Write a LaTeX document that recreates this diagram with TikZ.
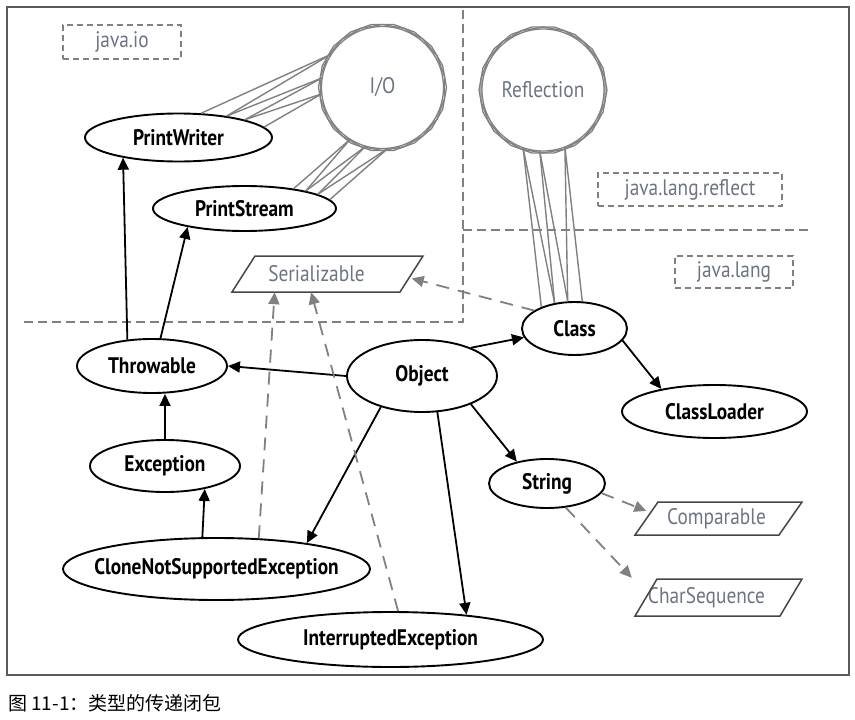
\documentclass[tikz,border=0pt]{standalone}
\usepackage{fontspec}
\setmainfont{PT Sans}[FakeStretch=0.86]
\newfontfamily\cjk{Noto Sans CJK SC}
\usetikzlibrary{shapes.geometric,arrows.meta,calc}
\definecolor{lblgray}{RGB}{108,116,132}
\definecolor{lngray}{RGB}{128,128,128}
\definecolor{framegray}{RGB}{90,90,90}
\definecolor{ifgray}{RGB}{70,70,70}
\newcommand\zbox[1]{\makebox[0pt]{#1}}
\begin{document}
\begin{tikzpicture}[x=1pt,y=-1pt,
  nd/.style={ellipse, draw=black, line width=1.9pt, fill=white, inner sep=0pt,
    font=\fontsize{22.5}{25}\selectfont\bfseries, text=black},
  clus/.style={circle, inner sep=0pt, minimum size=122pt,
    font=\fontsize{22.5}{25}\selectfont, text=lblgray},
  clusline/.style={draw=lngray, line width=1.3pt},
  poly/.style={regular polygon, regular polygon sides=18, inner sep=0pt, draw=lngray, line width=1.3pt},
  arr/.style={-{Triangle[length=12pt,width=11pt]}, line width=1.8pt, black},
  darr/.style={-{Triangle[length=12pt,width=11pt]}, line width=1.8pt, lngray, dash pattern=on 13pt off 9pt},
  glink/.style={lngray, line width=1.4pt},
  sep/.style={lngray, line width=1.8pt, dash pattern=on 9pt off 5pt},
  pkg/.style={draw=lngray, line width=1.8pt, dash pattern=on 6pt off 4pt, inner sep=0pt,
    font=\fontsize{22.5}{25}\selectfont, text=lblgray},
  ifn/.style={inner sep=0pt, font=\fontsize{22.5}{25}\selectfont, text=lblgray},
  ifb/.style={draw=ifgray, line width=1.5pt}
]
\useasboundingbox (0,0) rectangle (855,720);
% frame
\draw[framegray, line width=1.5pt] (7,7) rectangle (849,675);
% separators
\draw[sep] (463,10) -- (463,322) -- (22,322);
\draw[sep] (463,230) -- (808,230);
% package labels
\node[pkg, minimum width=118pt, minimum height=34pt] (pio) at (122,42) {java.io};
\node[pkg, minimum width=184pt, minimum height=33pt] (prefl) at (690,189.5) {java.lang.reflect};
\node[pkg, minimum width=118pt, minimum height=32pt] (plang) at (734,272) {java.lang};
% clusters
\node[clus] (io) at (382.5,87.5) {\zbox{I/O}};
\draw[clusline] (io.center) circle[radius=61pt];
\node[poly, minimum size=128pt] (iop1) at (io.center) {};
\node[poly, minimum size=126pt, rotate=10] (iop2) at (io.center) {};
\node[clus] (refl) at (543,90) {\zbox{Reflection}};
\draw[clusline] (refl.center) circle[radius=61pt];
\node[poly, minimum size=128pt] (rfp1) at (refl.center) {};
\node[poly, minimum size=126pt, rotate=10] (rfp2) at (refl.center) {};
% class nodes
\node[nd, minimum width=187pt, minimum height=48pt] (pw) at (178.5,137.5) {\zbox{PrintWriter}};
\node[nd, minimum width=183pt, minimum height=45pt] (ps) at (244.5,208.5) {\zbox{PrintStream}};
\node[nd, minimum width=150pt, minimum height=54pt] (thr) at (152,366) {\zbox{Throwable}};
\node[nd, minimum width=150pt, minimum height=72pt] (obj) at (422,376) {\zbox{Object}};
\node[nd, minimum width=105pt, minimum height=53pt] (cls) at (574.5,328.5) {\zbox{Class}};
\node[nd, minimum width=185pt, minimum height=53pt] (cl) at (714.5,411.5) {\zbox{ClassLoader}};
\node[nd, minimum width=150pt, minimum height=52pt] (exc) at (165,466) {\zbox{Exception}};
\node[nd, minimum width=116pt, minimum height=49pt] (str) at (547,483.5) {\zbox{String}};
\node[nd, minimum width=307pt, minimum height=62pt] (clone) at (216.5,569) {\zbox{CloneNotSupportedException}};
\node[nd, minimum width=305pt, minimum height=55pt] (intr) at (390.5,639.5) {\zbox{InterruptedException}};
% interfaces
\node[ifn, minimum width=168pt, minimum height=36pt] (ser) at (327.5,274) {\zbox{\hspace*{-22pt}Serializable}};
\draw[ifb] ($(ser.center)+(-95.5,18)$) -- ++(168,0) -- ++(23,-36) -- ++(-168,0) -- cycle;
\node[ifn, minimum width=144pt, minimum height=33pt] (cmp) at (718.5,518.5) {\zbox{\hspace*{-4pt}Comparable}};
\node[ifn, minimum width=145pt, minimum height=37pt] (chs) at (718.5,597.5) {\zbox{\hspace*{-24pt}CharSequence}};
\draw[ifb] ($(cmp.center)+(-83.5,16.5)$) -- ++(144,0) -- ++(23,-33) -- ++(-144,0) -- cycle;
\draw[ifb] ($(chs.center)+(-83.5,18.5)$) -- ++(145,0) -- ++(22,-37) -- ++(-145,0) -- cycle;
% cluster links
\foreach \a/\b in {147/47,147/24,171/24,171/15,186/15,186/7}
  \draw[glink] (io.\a) -- (pw.\b);
\foreach \a/\b in {238/22,238/16,254/16,254/11,275/11,275/6}
  \draw[glink] (io.\a) -- (ps.\b);
\foreach \a/\b in {251/147,251/128,267/128,267/104,291/104,291/74}
  \draw[glink] (refl.\a) -- (cls.\b);
% solid arrows
\draw[arr] (thr.133) -- (pw.200);
\draw[arr] (thr.73) -- (ps.198);
\draw[arr] (obj.west) -- (thr.east);
\draw[arr] (obj.30) -- (cls.190);
\draw[arr] (cls.346) -- (cl.157);
\draw[arr] (obj.330) -- (str.144);
\draw[arr] (obj.217) -- (clone.16);
\draw[arr] (obj.293) -- (intr.18);
\draw[arr] (exc.north) -- (exc.north |- thr.south);
\draw[arr] (clone.114) -- (exc.330);
% dashed arrows
\draw[darr] (cls.156) -- (ser.-3);
\draw[darr] (clone.36) -- (ser.199);
\draw[darr] (intr.75) -- (ser.228);
\draw[darr] (str.-10) -- (cmp.174);
\draw[darr] (str.308) -- ($(chs.north west)+(-14,-1)$);
% caption
\node[anchor=west, inner sep=0pt, font=\cjk\fontsize{19}{21}\selectfont, text=black] (cap) at (8,703) {图 11-1：类型的传递闭包};
\end{tikzpicture}
\end{document}
